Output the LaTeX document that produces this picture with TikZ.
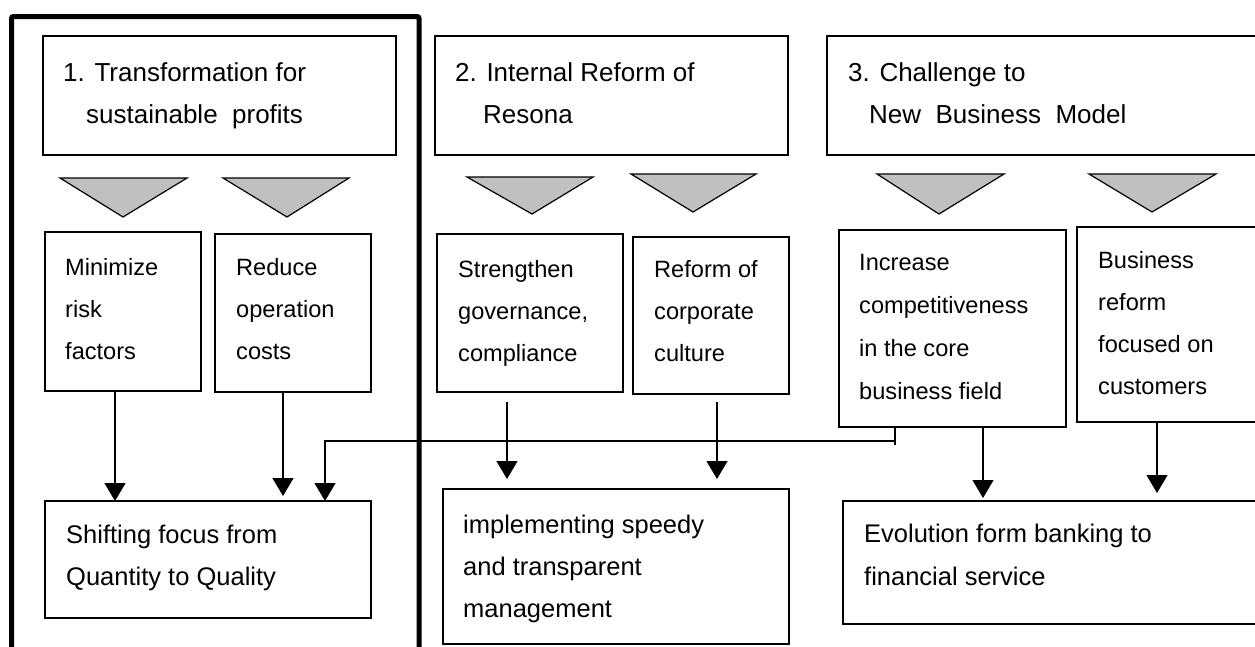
\documentclass[tikz,border=0pt]{standalone}
\usepackage{fontspec}
\setmainfont{Liberation Sans}
\usetikzlibrary{arrows.meta}
\definecolor{trigray}{RGB}{192,192,192}
\newcommand\mlines[1]{\begin{tabular}[t]{@{}l@{}}#1\end{tabular}}
\begin{document}
\begin{tikzpicture}[x=1pt,y=-1pt,
  box/.style={draw,line width=1.2pt,rectangle,inner sep=0pt,outer sep=0pt,anchor=north west},
  hd/.style={anchor=base west,inner sep=0pt,font=\fontsize{26}{42}\selectfont},
  md/.style={anchor=base west,inner sep=0pt,font=\fontsize{23.6}{42}\selectfont},
  mdw/.style={anchor=base west,inner sep=0pt,font=\fontsize{23.6}{43}\selectfont},
  lo/.style={anchor=base west,inner sep=0pt,font=\fontsize{25.5}{42}\selectfont},
  tri/.style={draw,line width=1.2pt,fill=trigray,line join=miter},
  arr/.style={line width=1.2pt,-{Triangle[width=21pt,length=18pt]}},
  ln/.style={line width=1.2pt}]
\useasboundingbox (0,0) rectangle (1255,646);
\clip (0,0) rectangle (1255,646);

% outer thick frame
\draw[line width=5pt,rounded corners=2pt] (11.5,16.5) rectangle (419,680);

% header boxes
\node[box,minimum width=353pt,minimum height=119pt] (h1) at (43,36) {};
\node[box,minimum width=353pt,minimum height=119pt] (h2) at (435,36) {};
\node[box,minimum width=440pt,minimum height=119pt] (h3) at (827,36) {};
\node[hd] (h1t) at (63,81) {\mlines{1. Transformation for\\\hspace*{23pt}sustainable\ \ profits}};
\node[hd] (h2t) at (455,81) {\mlines{2. Internal Reform of\\\hspace*{28pt}Resona}};
\node[hd] (h3t) at (848,81) {\mlines{3. Challenge to\\\hspace*{21pt}New\ \ Business\ \ Model}};

% triangles
\draw[tri] (60,178) -- (187,178) -- (123,217) -- cycle;
\draw[tri] (223,178) -- (349,178) -- (287,217) -- cycle;
\draw[tri] (467,177) -- (593,177) -- (532,214) -- cycle;
\draw[tri] (631,174) -- (756,174) -- (693,212) -- cycle;
\draw[tri] (877,174) -- (1004,174) -- (939,214) -- cycle;
\draw[tri] (1089,174) -- (1216,174) -- (1152,212) -- cycle;

% middle boxes
\node[box,minimum width=156pt,minimum height=159pt] (min) at (45,232) {};
\node[box,minimum width=156pt,minimum height=158pt] (red) at (215,234) {};
\node[box,minimum width=186pt,minimum height=158pt] (str) at (437,234) {};
\node[box,minimum width=156pt,minimum height=157pt] (ref) at (633,237) {};
\node[box,minimum width=227pt,minimum height=197pt] (inc) at (839,230) {};
\node[box,minimum width=200pt,minimum height=195pt] (bus) at (1077,227) {};
\node[md] (mint) at (65,275) {\mlines{Minimize\\risk\\factors}};
\node[md] (redt) at (236,275) {\mlines{Reduce\\operation\\costs}};
\node[md] (strt) at (458,277) {\mlines{Strengthen\\governance,\\compliance}};
\node[md] (reft) at (654,277) {\mlines{Reform of\\corporate\\culture}};
\node[mdw] (inct) at (859,270) {\mlines{Increase\\competitiveness\\in the core\\business field}};
\node[md] (bust) at (1098,268) {\mlines{Business\\reform\\focused on\\customers}};

% lower boxes
\node[box,minimum width=326pt,minimum height=117pt] (shf) at (45,501) {};
\node[box,minimum width=346pt,minimum height=155pt] (imp) at (443,489) {};
\node[box,minimum width=420pt,minimum height=123pt] (evo) at (843,501) {};
\node[lo] (shft) at (66,543) {\mlines{Shifting focus from\\Quantity to Quality}};
\node[lo] (impt) at (463,533) {\mlines{implementing speedy\\and transparent\\management}};
\node[lo,font=\fontsize{25.5}{43}\selectfont] (evot) at (864,542) {\mlines{Evolution form banking to\\financial service}};

% connectors
\coordinate (a1) at (115,0);
\draw[arr] (min.south -| a1) -- (shf.north -| a1);
\coordinate (a2e) at (283,496);
\draw[arr] (red.south -| a2e) -- (a2e);
\coordinate (a3s) at (507,402);
\coordinate (a3e) at (507,479);
\draw[arr] (a3s) -- (a3e);
\coordinate (a4s) at (717,402);
\coordinate (a4e) at (717,479);
\draw[arr] (a4s) -- (a4e);
\coordinate (a5e) at (983,498);
\draw[arr] (inc.south -| a5e) -- (a5e);
\coordinate (a6e) at (1157,493);
\draw[arr] (bus.south -| a6e) -- (a6e);

\coordinate (jn) at (895,441);
\coordinate (jt) at (895,445);
\coordinate (a7) at (325,0);
\draw[ln] (inc.south -| jn) -- (jt);
\draw[arr] (jn) -| (shf.north -| a7);
\end{tikzpicture}
\end{document}
